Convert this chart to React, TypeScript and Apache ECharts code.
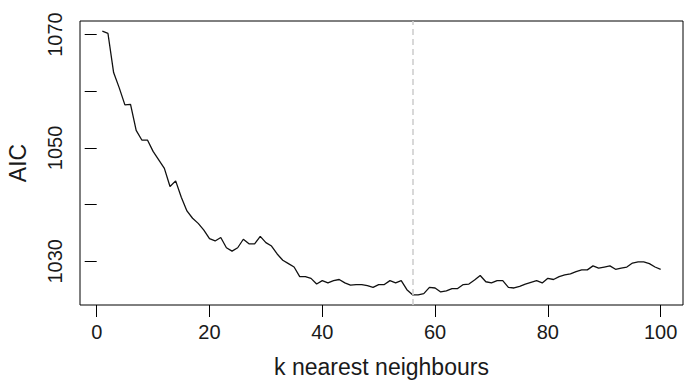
import React, { useEffect, useRef } from "react";
import * as echarts from "echarts";

const kValues = [
  1, 2, 3, 4, 5, 6, 7, 8, 9, 10, 11, 12, 13, 14, 15, 16, 17, 18, 19, 20,
  21, 22, 23, 24, 25, 26, 27, 28, 29, 30, 31, 32, 33, 34, 35, 36, 37, 38, 39, 40,
  41, 42, 43, 44, 45, 46, 47, 48, 49, 50, 51, 52, 53, 54, 55, 56, 57, 58, 59, 60,
  61, 62, 63, 64, 65, 66, 67, 68, 69, 70, 71, 72, 73, 74, 75, 76, 77, 78, 79, 80,
  81, 82, 83, 84, 85, 86, 87, 88, 89, 90, 91, 92, 93, 94, 95, 96, 97, 98, 99, 100,
];

const aicValues = [
  1070.6, 1070.2, 1063.3, 1060.6, 1057.6, 1057.7, 1053.1, 1051.4, 1051.4, 1049.4,
  1047.9, 1046.4, 1043.2, 1044.2, 1041.3, 1038.9, 1037.6, 1036.7, 1035.5, 1034.0,
  1033.6, 1034.2, 1032.4, 1031.8, 1032.4, 1033.9, 1033.1, 1033.1, 1034.4, 1033.3,
  1032.7, 1031.3, 1030.2, 1029.6, 1029.0, 1027.3, 1027.3, 1027.0, 1026.0, 1026.6,
  1026.2, 1026.6, 1026.8, 1026.2, 1025.8, 1025.9, 1025.9, 1025.7, 1025.4, 1025.9,
  1025.9, 1026.6, 1026.2, 1026.6, 1025.0, 1024.1, 1024.1, 1024.3, 1025.4, 1025.3,
  1024.6, 1024.8, 1025.2, 1025.2, 1025.9, 1026.0, 1026.7, 1027.5, 1026.4, 1026.2,
  1026.6, 1026.6, 1025.4, 1025.3, 1025.6, 1026.0, 1026.3, 1026.6, 1026.2, 1027.0,
  1026.8, 1027.3, 1027.6, 1027.8, 1028.2, 1028.5, 1028.5, 1029.2, 1028.8, 1029.0,
  1029.2, 1028.6, 1028.8, 1029.0, 1029.7, 1029.9, 1029.9, 1029.6, 1029.0, 1028.6,
];

const xTicks = [0, 20, 40, 60, 80, 100];
const yTicks = [1030, 1040, 1050, 1060, 1070];
const yLabels = [1030, 1050, 1070];
const bestK = 56;

const FONT = '"Liberation Sans", Arial, Helvetica, sans-serif';

export default function App() {
  const ref = useRef<HTMLDivElement>(null);

  useEffect(() => {
    if (!ref.current) return;
    const chart = echarts.init(ref.current, null, { renderer: "svg" });
    const data = kValues.map((k, i) => [k, aicValues[i]]);
    chart.setOption({
      animation: false,
      backgroundColor: "#ffffff",
      grid: {
        left: 80,
        top: 21,
        right: 2,
        bottom: 76,
        show: true,
        borderColor: "#000",
        borderWidth: 1,
        backgroundColor: "transparent",
        containLabel: false,
        outerBoundsMode: "none",
      },
      xAxis: {
        type: "value",
        min: -2.96,
        max: 103.96,
        axisLine: { show: false },
        splitLine: { show: false },
        axisTick: {
          show: true,
          customValues: xTicks,
          length: 12,
          lineStyle: { color: "#000", width: 1 },
        },
        axisLabel: {
          customValues: xTicks,
          margin: 17,
          fontSize: 20,
          fontFamily: FONT,
          color: "#1a1a1a",
          formatter: (v: number) => String(v),
        },
        name: "k nearest neighbours",
        nameLocation: "middle",
        nameGap: 50,
        nameTextStyle: { fontSize: 23, fontFamily: FONT, color: "#1a1a1a" },
      },
      yAxis: {
        type: "value",
        min: 1022.3,
        max: 1072.4,
        axisLine: { show: false },
        splitLine: { show: false },
        axisTick: {
          show: true,
          customValues: yTicks,
          length: 12,
          lineStyle: { color: "#000", width: 1 },
        },
        axisLabel: {
          customValues: yLabels,
          rotate: 90,
          margin: 15,
          fontSize: 20,
          fontFamily: FONT,
          color: "#1a1a1a",
          formatter: (v: number) => String(v),
        },
        name: "AIC",
        nameLocation: "middle",
        nameGap: 51,
        nameTextStyle: { fontSize: 23, fontFamily: FONT, color: "#1a1a1a" },
      },
      series: [
        {
          type: "line",
          data,
          showSymbol: false,
          symbol: "none",
          lineStyle: { color: "#111", width: 1.3 },
          silent: true,
          markLine: {
            silent: true,
            symbol: "none",
            label: { show: false },
            lineStyle: { color: "#cfcfcf", type: [6, 4], width: 1.6 },
            data: [{ xAxis: bestK }],
          },
        },
      ],
    });
    return () => chart.dispose();
  }, []);

  return (
    <div
      ref={ref}
      style={{ position: "fixed", left: 0, top: 0, width: 685, height: 381, background: "#fff" }}
    />
  );
}
